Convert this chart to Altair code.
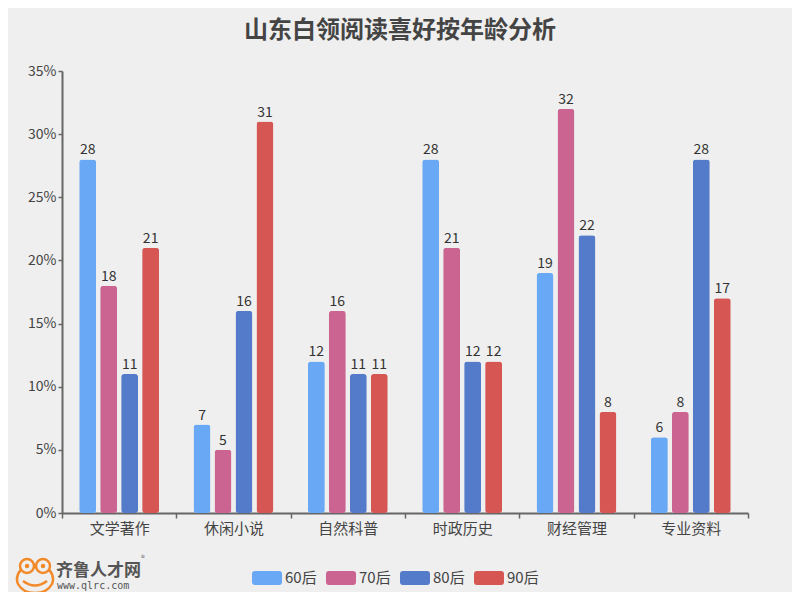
import altair as alt
import pandas as pd

categories = ["文学著作", "休闲小说", "自然科普", "时政历史", "财经管理", "专业资料"]
series = ["60后", "70后", "80后", "90后"]
v60 = [28, 7, 12, 28, 19, 6]
v70 = [18, 5, 16, 21, 32, 8]
v80 = [11, 16, 11, 12, 22, 28]
v90 = [21, 31, 11, 12, 8, 17]
colors = ["#69a8f5", "#cb6491", "#537bca", "#d65654"]
title_text = "山东白领阅读喜好按年龄分析"

rows = []
for s, vals in zip(series, [v60, v70, v80, v90]):
    for c, v in zip(categories, vals):
        rows.append({"cat": c, "age": s, "value": v})
df = pd.DataFrame(rows)

FONT = "Noto Sans CJK SC"
W, H = 686, 442

x_enc = alt.X("cat:N", sort=categories, title=None,
              scale=alt.Scale(paddingInner=0, paddingOuter=0),
              axis=alt.Axis(labelAngle=0, labelFontSize=15, labelColor="#444",
                            labelFont=FONT, tickBand="extent", tickSize=5,
                            tickColor="#666", domainColor="#666", domainWidth=2,
                            tickWidth=1.5, labelPadding=3, grid=False))
xoff = alt.XOffset("age:N", sort=series,
                   scale=alt.Scale(paddingInner=0.19, paddingOuter=0.82))
y_enc = alt.Y("value:Q", title=None,
              scale=alt.Scale(domain=[0, 35], nice=False),
              axis=alt.Axis(values=[0, 5, 10, 15, 20, 25, 30, 35],
                            labelExpr="datum.value + '%'", labelFontSize=14,
                            labelColor="#444", labelFont=FONT, tickSize=4,
                            tickColor="#666", domainColor="#666", domainWidth=2,
                            tickWidth=1.5, labelPadding=2, grid=False))

legend_path = ("M-0.8,-0.467 L0.8,-0.467 Q1,-0.467 1,-0.267 L1,0.267 Q1,0.467 0.8,0.467 "
               "L-0.8,0.467 Q-1,0.467 -1,0.267 L-1,-0.267 Q-1,-0.467 -0.8,-0.467 Z")

color_enc = alt.Color("age:N", sort=series,
                      scale=alt.Scale(domain=series, range=colors),
                      legend=alt.Legend(title=None, orient="none", direction="horizontal",
                                        legendX=190, legendY=492, symbolType=legend_path,
                                        symbolSize=900, symbolStrokeWidth=0,
                                        symbolOpacity=1, labelFontSize=15,
                                        labelColor="#444", labelFont=FONT,
                                        labelOffset=3, columnPadding=9, padding=0))

base = alt.Chart(df)
bars = base.mark_bar(cornerRadius=3).encode(x=x_enc, xOffset=xoff, y=y_enc, color=color_enc)
labels = base.mark_text(baseline="alphabetic", dy=-5, fontSize=14, color="#333",
                        font=FONT).encode(x=x_enc, xOffset=xoff, y=y_enc,
                                          text=alt.Text("value:Q"))

# watermark logo
logo_df = pd.DataFrame({"brand": ["齐鲁人才网"], "url": ["www.qlrc.com"], "reg": ["®"]})
frog_path = ("M-0.75,-0.55 A0.35,0.35 0 1,1 -0.05,-0.55 A0.35,0.35 0 1,1 -0.75,-0.55 Z "
             "M0.05,-0.55 A0.35,0.35 0 1,1 0.75,-0.55 A0.35,0.35 0 1,1 0.05,-0.55 Z "
             "M-0.72,-0.35 Q-1,0 -0.85,0.35 Q-0.6,0.8 0,0.8 Q0.6,0.8 0.85,0.35 Q1,0 0.72,-0.35 "
             "M-0.6,0.2 Q0,0.65 0.6,0.2")
logo = alt.Chart(logo_df)
frog = logo.mark_point(shape=frog_path, filled=False, color="#f28a2a", strokeWidth=2.5,
                       size=1600, opacity=1).encode(x=alt.value(-27), y=alt.value(506))
eye_l = logo.mark_circle(color="#f28a2a", size=20, opacity=1).encode(
    x=alt.value(-35), y=alt.value(495))
eye_r = logo.mark_circle(color="#f28a2a", size=20, opacity=1).encode(
    x=alt.value(-19), y=alt.value(495))
brand = logo.mark_text(align="left", baseline="middle", fontSize=17, fontWeight="bold",
                       color="#555", font=FONT).encode(
    x=alt.value(-6), y=alt.value(500), text="brand:N")
reg = logo.mark_text(align="left", baseline="middle", fontSize=8, color="#666",
                     font=FONT).encode(x=alt.value(79), y=alt.value(488), text="reg:N")
url = logo.mark_text(align="left", baseline="middle", fontSize=10, color="#555",
                     font="DejaVu Sans Mono").encode(
    x=alt.value(-5), y=alt.value(515), text="url:N")

chart = alt.layer(bars, labels, frog, eye_l, eye_r, brand, reg, url).properties(
    width=W, height=H,
    title=alt.Title(title_text, fontSize=24, fontWeight="bold", color="#444", font=FONT,
                    anchor="middle", frame="group", offset=21, dx=-5),
    background="#efefef",
    padding={"left": 54, "top": 63, "right": 44, "bottom": 79},
    autosize=alt.AutoSizeParams(type="none"),
).configure_view(stroke=None)

chart.save("out.html", embed_options={"renderer": "svg", "actions": False})
